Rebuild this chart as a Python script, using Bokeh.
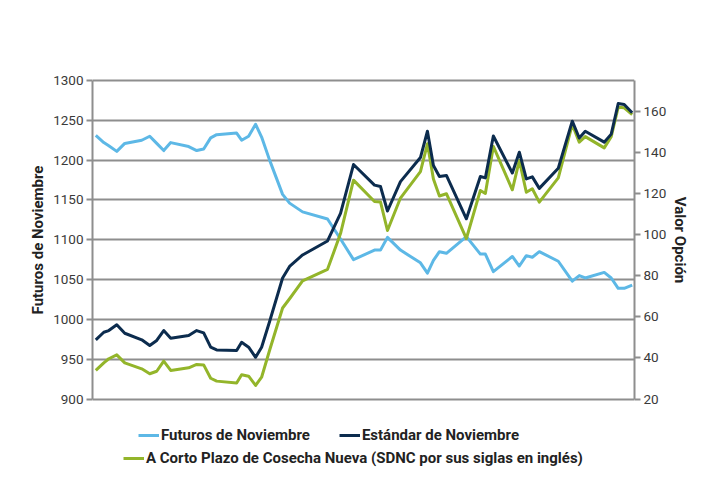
from bokeh.plotting import figure
from bokeh.models import Range1d, LinearAxis, Legend, LegendItem, FixedTicker, ColumnDataSource
from bokeh.embed import file_html
from bokeh.resources import INLINE

# ---- data ----
dias = [0, 8, 13, 21, 29, 46, 54, 61, 68, 75, 93, 101, 108, 115, 121, 141, 146, 153,
        160, 166, 174, 187, 194, 207, 232, 245, 258, 279, 285, 292, 305, 325, 332, 338,
        344, 351, 371, 385, 390, 398, 417, 424, 431, 437, 444, 463, 477, 484, 490, 509,
        516, 523, 529, 537]
futuros_nov = [1231, 1222, 1218, 1211, 1221, 1225, 1230, 1221, 1212, 1222, 1217, 1212,
               1214, 1228, 1232, 1234, 1225, 1230, 1245, 1229, 1200, 1157, 1146, 1135,
               1126, 1101, 1075, 1087, 1087, 1103, 1087, 1071, 1058, 1074, 1085, 1083,
               1104, 1082, 1082, 1060, 1079, 1067, 1080, 1078, 1085, 1073, 1048, 1055,
               1052, 1059, 1052, 1039, 1039, 1043]
estandar_nov = [48.8, 52.5, 53.3, 56.1, 52.0, 48.8, 46.0, 48.5, 53.3, 49.6, 50.9, 53.3,
                52.2, 45.2, 43.9, 43.6, 47.6, 45.2, 40.3, 45.2, 57.7, 78.9, 84.5, 90.1,
                96.9, 110.3, 134.1, 124.1, 123.4, 111.5, 125.8, 137.5, 150.3, 133.6, 128.3,
                128.8, 107.7, 128.3, 127.6, 148.0, 130.0, 140.1, 127.1, 128.1, 122.5, 132.3,
                155.2, 147.0, 150.3, 145.0, 148.9, 163.8, 163.3, 159.3]
sdnc = [33.9, 37.6, 39.6, 41.5, 37.6, 34.7, 32.3, 33.5, 38.4, 33.9, 35.2, 36.8, 36.6,
        30.1, 28.7, 27.8, 31.8, 31.1, 26.6, 30.6, 43.7, 64.3, 68.8, 77.5, 83.1, 100.5,
        126.5, 116.1, 115.9, 102.0, 117.8, 130.7, 144.2, 127.1, 118.8, 119.9, 98.1, 121.5,
        120.0, 142.9, 121.8, 136.1, 120.6, 122.3, 115.8, 127.6, 153.6, 145.0, 147.7, 142.2,
        147.7, 162.0, 161.7, 158.4]
ticks_izq = [900, 950, 1000, 1050, 1100, 1150, 1200, 1250, 1300]
ticks_der = [20, 40, 60, 80, 100, 120, 140, 160]
nombres = ["Futuros de Noviembre", "Estándar de Noviembre",
           "A Corto Plazo de Cosecha Nueva (SDNC por sus siglas en inglés)"]

C_FUT = "#5db8e6"
C_EST = "#0c2c4e"
C_SDNC = "#93b52a"
GRID = "#8e8e8e"
FONT = "Roboto"

# ---- layout: the frame extends above and below the chart area (symmetrically, so
# the axis titles stay centred on it) to hold the legend ----
W, H = 720, 500
FRAME_TOP, FRAME_BOTTOM = 9, 470
PLOT_TOP, PLOT_BOTTOM = 80, 398.5
LEFT, RIGHT = 92, 634
izq_min, izq_max = 900, 1300
der_min, der_max = 20, 175
ext_lo = (FRAME_BOTTOM - PLOT_BOTTOM) / (PLOT_BOTTOM - PLOT_TOP)
ext_hi = (PLOT_TOP - FRAME_TOP) / (PLOT_BOTTOM - PLOT_TOP)
y_izq = Range1d(izq_min - ext_lo * (izq_max - izq_min), izq_max + ext_hi * (izq_max - izq_min))
y_der = Range1d(der_min - ext_lo * (der_max - der_min), der_max + ext_hi * (der_max - der_min))

src = ColumnDataSource(dict(dias=dias, fut=futuros_nov, est=estandar_nov, sdnc=sdnc))

p = figure(width=W, height=H, output_backend="svg", toolbar_location=None,
           x_range=Range1d(-3.3, 539.3), y_range=y_izq,
           x_axis_location=None, y_axis_location="left",
           min_border_left=LEFT, min_border_right=W - RIGHT, min_border_top=FRAME_TOP,
           min_border_bottom=H - FRAME_BOTTOM)
p.outline_line_color = None
p.background_fill_color = "white"
p.extra_y_ranges = {"opc": y_der}


def style_axis(a, label):
    a.axis_label = label
    a.axis_label_text_font = FONT
    a.axis_label_text_font_style = "bold"
    a.axis_label_text_font_size = "15px"
    a.axis_label_text_color = "#222222"
    a.axis_label_standoff = 3
    a.major_label_text_font = FONT
    a.major_label_text_font_size = "13.5px"
    a.major_label_text_color = "#3a3a3a"
    a.major_label_standoff = 3
    a.axis_line_color = GRID
    a.axis_line_width = 2
    a.major_tick_line_color = GRID
    a.major_tick_line_width = 2
    a.major_tick_out = 6
    a.major_tick_in = 0
    a.minor_tick_line_color = None


ax = p.yaxis[0]
ax.ticker = FixedTicker(ticks=ticks_izq)
ax.bounds = (izq_min, izq_max)
style_axis(ax, "Futuros de Noviembre")

rax = LinearAxis(y_range_name="opc", ticker=FixedTicker(ticks=ticks_der),
                 bounds=(der_min, der_max))
style_axis(rax, "Valor Opción")
rax.axis_label_standoff = 2
p.add_layout(rax, "right")

p.xgrid.visible = False
p.ygrid.ticker = FixedTicker(ticks=ticks_izq)
p.ygrid.grid_line_color = GRID
p.ygrid.grid_line_width = 2

r_fut = p.line("dias", "fut", source=src, line_color=C_FUT, line_width=3, line_join="round")
r_est = p.line("dias", "est", source=src, y_range_name="opc", line_color=C_EST, line_width=3,
               line_join="round")
r_sdnc = p.line("dias", "sdnc", source=src, y_range_name="opc", line_color=C_SDNC, line_width=3,
                line_join="round")
p.renderers = [r_fut, r_sdnc, r_est]


def make_legend(items, loc):
    return Legend(items=items, location=loc, orientation="horizontal",
                  padding=0, margin=0, spacing=29, glyph_width=21, glyph_height=20,
                  label_height=20, label_standoff=2, border_line_color=None,
                  background_fill_alpha=0, label_text_font=FONT,
                  label_text_font_style="bold", label_text_font_size="15px",
                  label_text_color="#222222")


lg1 = make_legend([LegendItem(label=nombres[0], renderers=[r_fut]),
                   LegendItem(label=nombres[1], renderers=[r_est])],
                  (46, FRAME_BOTTOM - 445))
lg2 = make_legend([LegendItem(label=nombres[2], renderers=[r_sdnc])],
                  (31, FRAME_BOTTOM - 468))
p.add_layout(lg1)
p.add_layout(lg2)

open("out.html", "w").write(file_html(p, INLINE))
